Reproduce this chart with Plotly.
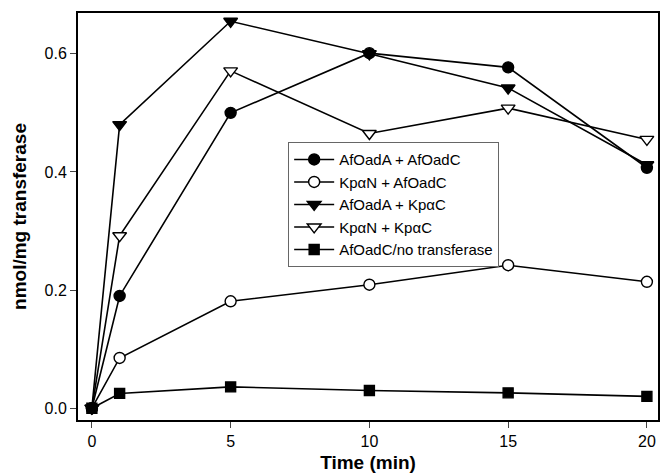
import plotly.graph_objects as go

time = [0, 1, 5, 10, 15, 20]
afoadA_afoadC = [0.0, 0.19, 0.50, 0.601, 0.577, 0.407]
kpaN_afoadC = [0.0, 0.085, 0.181, 0.209, 0.242, 0.214]
afoadA_kpaC = [0.0, 0.48, 0.655, 0.600, 0.542, 0.412]
kpaN_kpaC = [0.0, 0.292, 0.571, 0.465, 0.508, 0.455]
afoadC_none = [0.0, 0.025, 0.036, 0.030, 0.026, 0.020]

series = [
    ("AfOadA + AfOadC", afoadA_afoadC, "circle", "black", 11),
    ("Kp\u03b1N + AfOadC", kpaN_afoadC, "circle", "white", 11),
    ("AfOadA + Kp\u03b1C", afoadA_kpaC, "triangle-down", "black", 12),
    ("Kp\u03b1N + Kp\u03b1C", kpaN_kpaC, "triangle-down", "white", 12),
    ("AfOadC/no transferase", afoadC_none, "square", "black", 10),
]

fig = go.Figure()
for name, ys, sym, fill, sz in series:
    fig.add_trace(go.Scatter(
        x=time, y=ys, name=name, mode="lines+markers",
        line=dict(color="black", width=1.6),
        marker=dict(symbol=sym, size=sz, color=fill,
                    line=dict(color="black", width=1.4)),
    ))

font = "Liberation Sans, Arial, sans-serif"
fig.update_layout(
    width=660, height=475,
    margin=dict(l=78, r=2, t=13, b=55),
    paper_bgcolor="white", plot_bgcolor="white",
    font=dict(family=font, size=16, color="black"),
    showlegend=True,
    legend=dict(
        x=0.362, y=0.683, xanchor="left", yanchor="top",
        bordercolor="#666666", borderwidth=1.2, bgcolor="white",
        font=dict(size=15, family=font), tracegroupgap=0,
        itemwidth=40,
    ),
    xaxis=dict(
        range=[-0.5, 20.4], tickvals=[0, 5, 10, 15, 20],
        ticks="outside", ticklen=6, tickwidth=1.2,
        showline=True, linecolor="black", linewidth=2, mirror=True,
        showgrid=False, zeroline=False, automargin=False,
        title=dict(text="<b>Time (min)</b>", font=dict(size=19), standoff=6),
        tickfont=dict(size=16),
    ),
    yaxis=dict(
        range=[-0.02, 0.669], tickvals=[0.0, 0.2, 0.4, 0.6],
        tickformat=".1f",
        ticks="outside", ticklen=6, tickwidth=1.2,
        showline=True, linecolor="black", linewidth=2, mirror=True,
        showgrid=False, zeroline=False, automargin=False,
        title=dict(text="<b>nmol/mg transferase</b>", font=dict(size=19), standoff=13),
        tickfont=dict(size=16),
    ),
)

fig.write_html("out.html", config={"displayModeBar": False},
               post_script="document.body.style.margin='0px';")
